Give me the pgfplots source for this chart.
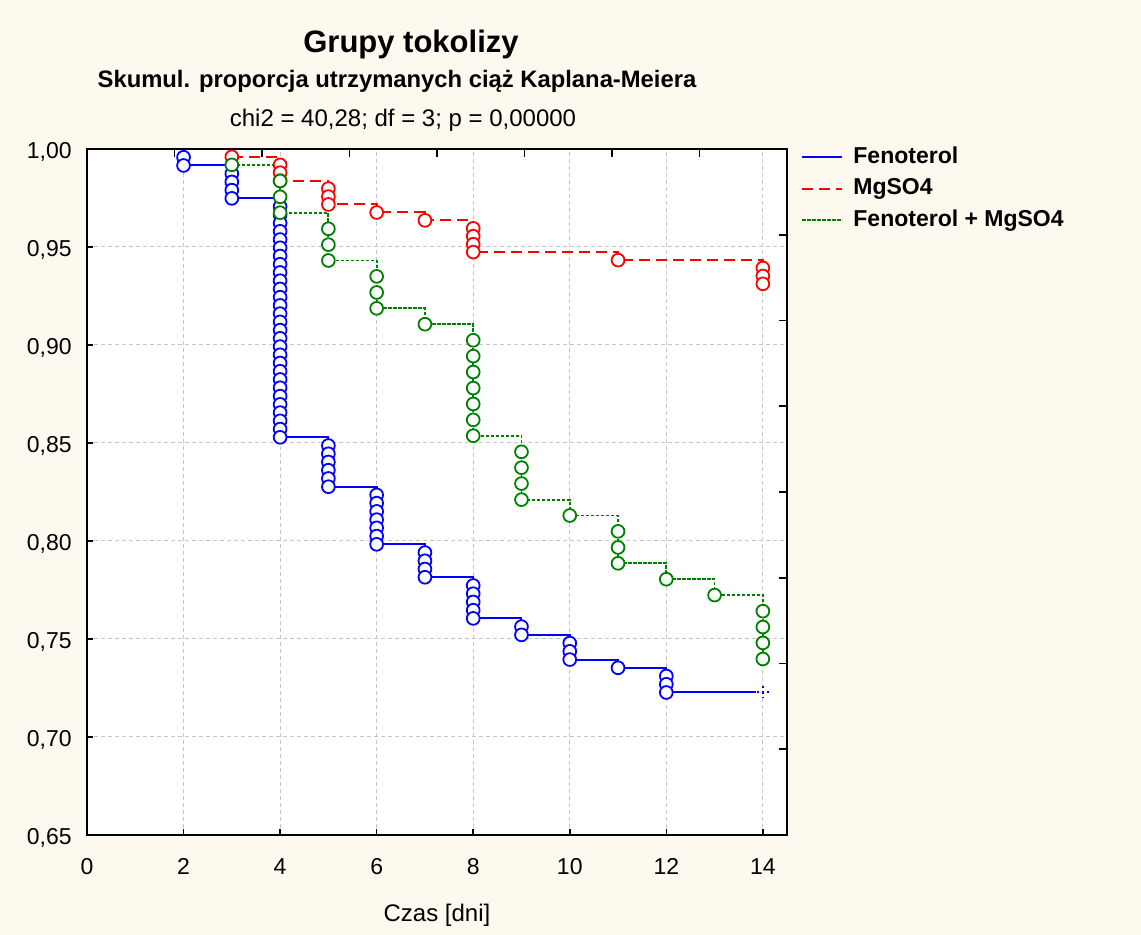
\documentclass[border=0pt]{standalone}
\usepackage{pgfplots}
\pgfplotsset{compat=1.18}
\usepackage{fontspec}
\setmainfont{Liberation Sans}
\definecolor{bgc}{RGB}{253,249,238}
\definecolor{gridc}{RGB}{198,198,198}
\definecolor{kmblue}{RGB}{0,0,255}
\definecolor{kmred}{RGB}{255,0,0}
\definecolor{kmgreen}{RGB}{0,128,0}
\begin{document}
\begin{tikzpicture}
\fill[bgc] (0,0) rectangle (570.5pt,467.5pt);
\begin{axis}[
  at={(43.5pt,50pt)}, anchor=south west,
  scale only axis, width=350pt, height=343pt,
  xmin=0, xmax=14.5, ymin=0.65, ymax=1,
  xtick={0,2,4,6,8,10,12,14},
  ytick={0.65,0.7,0.75,0.8,0.85,0.9,0.95,1},
  tick align=inside, tick pos=left,
  major tick length=3pt,
  grid=major,
  major grid style={gridc, dash pattern=on 2pt off 1.5pt, line width=0.5pt},
  axis line style={line width=1pt},
  major tick style={line width=0.8pt, black},
  axis background/.style={fill=white},
  tick label style={font=\fontsize{11.5}{13}\selectfont, inner sep=0pt,
    /pgf/number format/assume math mode=true},
  xticklabel style={anchor=base, yshift=-20pt},
  yticklabel style={anchor=base east, yshift=-4.7pt, xshift=-7.5pt,
    /pgf/number format/.cd, fixed, fixed zerofill, precision=2, use comma, assume math mode=true},
  xlabel={Czas [dni]},
  xlabel style={font=\fontsize{12}{14}\selectfont, at={(axis description cs:0.5,0)}, anchor=base, yshift=-43.5pt, inner sep=0pt},
  legend style={draw=none, fill=none, at={(1.020,1.0044)}, anchor=north west,
    font=\bfseries\fontsize{11.5}{13}\selectfont, inner sep=0pt, row sep=4.75pt,
    nodes={inner sep=0pt, text height=8.5pt, text depth=2.5pt},
    /tikz/every odd column/.append style={column sep=5pt}},
  legend cell align=left,
  legend image code/.code={\draw[#1] (0pt,0pt) -- (20pt,0pt);},
]
% Fenoterol
\addplot[const plot, kmblue, line width=1pt, mark=none] coordinates {
 (2,0.9916) (3,0.9748) (4,0.8529) (5,0.8277) (6,0.7983) (7,0.7815)
 (8,0.7605) (9,0.7521) (10,0.7395) (11,0.7353) (12,0.7227) (13.85,0.7227)};
\addlegendentry{Fenoterol}
% MgSO4
\addplot[const plot, kmred, line width=1pt, dash pattern=on 5.5pt off 3pt, mark=none] coordinates {
 (3,0.9960) (4,0.9838) (5,0.9717) (6,0.9676) (7,0.9636) (8,0.9474) (11,0.9433) (14,0.9312)};
\addlegendentry{MgSO4}
% Fenoterol + MgSO4
\addplot[const plot, kmgreen, line width=0.9pt, dash pattern=on 1.6pt off 0.9pt, mark=none] coordinates {
 (3,0.9919) (4,0.9675) (5,0.9431) (6,0.9187) (7,0.9106) (8,0.8537) (9,0.8211)
 (10,0.8130) (11,0.7886) (12,0.7805) (13,0.7724) (14,0.7398)};
\addlegendentry{Fenoterol + MgSO4}
% event marks
\addplot[forget plot, only marks, mark=*, mark size=3.2pt, mark options={draw=kmblue, fill=white, line width=0.9pt, solid}] coordinates {
 (2,0.9958) (2,0.9916)
 (3,0.9874) (3,0.9832) (3,0.9790) (3,0.9748)
 (4,0.9706) (4,0.9664) (4,0.9622) (4,0.9580) (4,0.9538) (4,0.9496) (4,0.9454) (4,0.9412)
 (4,0.9370) (4,0.9328) (4,0.9286) (4,0.9244) (4,0.9202) (4,0.9160) (4,0.9118) (4,0.9076)
 (4,0.9034) (4,0.8992) (4,0.8950) (4,0.8908) (4,0.8866) (4,0.8824) (4,0.8782) (4,0.8739)
 (4,0.8697) (4,0.8655) (4,0.8613) (4,0.8571) (4,0.8529)
 (5,0.8487) (5,0.8445) (5,0.8403) (5,0.8361) (5,0.8319) (5,0.8277)
 (6,0.8235) (6,0.8193) (6,0.8151) (6,0.8109) (6,0.8067) (6,0.8025) (6,0.7983)
 (7,0.7941) (7,0.7899) (7,0.7857) (7,0.7815)
 (8,0.7773) (8,0.7731) (8,0.7689) (8,0.7647) (8,0.7605)
 (9,0.7563) (9,0.7521)
 (10,0.7479) (10,0.7437) (10,0.7395)
 (11,0.7353)
 (12,0.7311) (12,0.7269) (12,0.7227)};
\addplot[forget plot, only marks, mark=+, mark size=3pt, mark options={draw=kmblue, line width=1pt, dash pattern=on 1pt off 1.6pt}] coordinates {(14,0.7227)};
\addplot[forget plot, only marks, mark=*, mark size=3.2pt, mark options={draw=kmred, fill=white, line width=0.9pt, solid}] coordinates {
 (3,0.9960)
 (4,0.9919) (4,0.9879) (4,0.9838)
 (5,0.9798) (5,0.9757) (5,0.9717)
 (6,0.9676)
 (7,0.9636)
 (8,0.9595) (8,0.9555) (8,0.9514) (8,0.9474)
 (11,0.9433)
 (14,0.9393) (14,0.9352) (14,0.9312)};
\addplot[forget plot, only marks, mark=*, mark size=3.2pt, mark options={draw=kmgreen, fill=white, line width=0.9pt, solid}] coordinates {
 (3,0.9919)
 (4,0.9837) (4,0.9756) (4,0.9675)
 (5,0.9593) (5,0.9512) (5,0.9431)
 (6,0.9350) (6,0.9268) (6,0.9187)
 (7,0.9106)
 (8,0.9024) (8,0.8943) (8,0.8862) (8,0.8780) (8,0.8699) (8,0.8618) (8,0.8537)
 (9,0.8455) (9,0.8374) (9,0.8293) (9,0.8211)
 (10,0.8130)
 (11,0.8049) (11,0.7967) (11,0.7886)
 (12,0.7805)
 (13,0.7724)
 (14,0.7642) (14,0.7561) (14,0.7480) (14,0.7398)};
\end{axis}
\begin{axis}[
  at={(43.5pt,50pt)}, anchor=south west,
  scale only axis, width=350pt, height=343pt,
  xmin=0, xmax=14.5, ymin=0.65, ymax=1,
  xtick={1.8125,3.625,5.4375,7.25,9.0625,10.875,12.6875},
  ytick={0.69375,0.7375,0.78125,0.825,0.86875,0.9125,0.95625},
  xticklabels={}, yticklabels={},
  tick pos=right, tick align=inside, major tick length=4pt,
  axis line style={line width=1pt},
  major tick style={line width=0.8pt, black},
]
\end{axis}
\node[anchor=base, font=\bfseries\fontsize{15.5}{18}\selectfont] at (205.5pt,441pt) {Grupy tokolizy};
\node[anchor=base, font=\bfseries\fontsize{11.9}{14}\selectfont] at (198.5pt,423.5pt) {Skumul. proporcja utrzymanych ciąż Kaplana-Meiera};
\node[anchor=base, font=\fontsize{12}{14}\selectfont] at (201.5pt,404pt) {chi2 = 40,28; df = 3; p = 0,00000};
\pgfresetboundingbox
\path[use as bounding box] (0,0) rectangle (570.5pt,467.5pt);
\end{tikzpicture}
\end{document}
